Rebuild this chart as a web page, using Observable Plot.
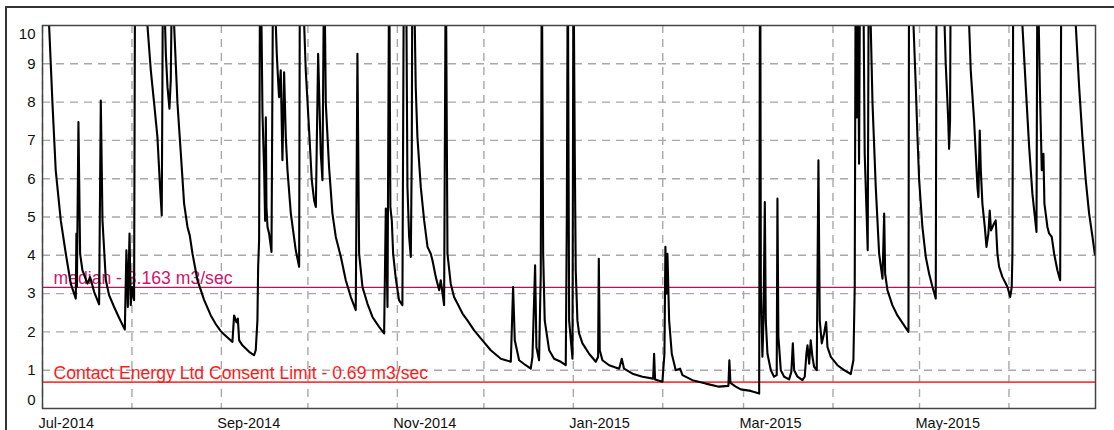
<!DOCTYPE html>
<html><head><meta charset="utf-8">
<script src="https://cdn.jsdelivr.net/npm/d3@7"></script>
<script src="https://cdn.jsdelivr.net/npm/@observablehq/plot@0.6"></script>
<style>
body{margin:0;background:#fff;}
#wrap{position:relative;width:1114px;height:430px;overflow:hidden;background:#fff;}
#wrap svg{position:absolute;left:0;top:0;}
#outer{position:absolute;left:5px;top:6px;right:-10px;bottom:-10px;border-left:2px solid #333;border-top:2px solid #333;pointer-events:none;z-index:2;}
</style></head><body><div id="wrap"><div id="outer"></div></div>
<script>
const times = ["2014-07-01T00","2014-07-03T07","2014-07-04T11","2014-07-05T14","2014-07-07T08","2014-07-09T02","2014-07-10T19","2014-07-12T13","2014-07-12T18","2014-07-12T22","2014-07-13T11","2014-07-14T01","2014-07-14T20","2014-07-16T14","2014-07-17T12","2014-07-18T22","2014-07-20T15","2014-07-21T05","2014-07-21T19","2014-07-22T23","2014-07-24T02","2014-07-25T20","2014-07-27T13","2014-07-29T13","2014-07-30T02","2014-07-30T14","2014-07-31T04","2014-07-31T14","2014-08-01T02","2014-08-01T18","2014-08-02T06","2014-08-04T00","2014-08-06T09","2014-08-07T13","2014-08-08T17","2014-08-09T20","2014-08-10T18","2014-08-11T08","2014-08-11T19","2014-08-12T18","2014-08-13T08","2014-08-14T00","2014-08-14T11","2014-08-14T20","2014-08-15T15","2014-08-16T19","2014-08-17T23","2014-08-19T02","2014-08-20T06","2014-08-21T01","2014-08-22T00","2014-08-23T17","2014-08-26T01","2014-08-28T08","2014-08-30T02","2014-08-31T19","2014-09-01T23","2014-09-04T20","2014-09-05T10","2014-09-06T06","2014-09-06T17","2014-09-07T04","2014-09-08T07","2014-09-10T15","2014-09-12T08","2014-09-12T22","2014-09-13T12","2014-09-13T18","2014-09-14T02","2014-09-14T10","2014-09-14T22","2014-09-15T06","2014-09-15T20","2014-09-16T04","2014-09-16T10","2014-09-16T15","2014-09-17T00","2014-09-17T13","2014-09-18T09","2014-09-18T23","2014-09-19T21","2014-09-20T05","2014-09-20T19","2014-09-21T00","2014-09-21T14","2014-09-22T04","2014-09-22T18","2014-09-23T08","2014-09-23T22","2014-09-25T02","2014-09-26T19","2014-09-27T23","2014-09-28T07","2014-09-29T17","2014-09-30T06","2014-10-01T10","2014-10-02T08","2014-10-03T04","2014-10-03T18","2014-10-04T13","2014-10-05T11","2014-10-06T01","2014-10-06T15","2014-10-07T05","2014-10-08T08","2014-10-09T12","2014-10-10T16","2014-10-12T10","2014-10-14T03","2014-10-15T21","2014-10-17T14","2014-10-18T04","2014-10-18T18","2014-10-19T22","2014-10-21T15","2014-10-23T09","2014-10-25T16","2014-10-27T10","2014-10-28T00","2014-10-28T14","2014-10-29T04","2014-10-29T14","2014-10-30T02","2014-10-30T13","2014-10-31T11","2014-11-01T14","2014-11-02T18","2014-11-03T08","2014-11-04T04","2014-11-04T12","2014-11-05T02","2014-11-05T16","2014-11-06T00","2014-11-06T06","2014-11-07T01","2014-11-07T09","2014-11-07T23","2014-11-09T03","2014-11-10T07","2014-11-11T11","2014-11-12T14","2014-11-13T04","2014-11-14T08","2014-11-15T12","2014-11-16T01","2014-11-17T05","2014-11-17T19","2014-11-18T09","2014-11-19T12","2014-11-20T16","2014-11-21T20","2014-11-23T14","2014-11-25T07","2014-11-27T15","2014-11-29T22","2014-12-03T09","2014-12-06T21","2014-12-10T08","2014-12-11T03","2014-12-11T17","2014-12-13T05","2014-12-15T12","2014-12-17T06","2014-12-17T20","2014-12-18T18","2014-12-19T05","2014-12-20T03","2014-12-20T17","2014-12-21T02","2014-12-21T13","2014-12-22T02","2014-12-23T15","2014-12-25T08","2014-12-27T16","2014-12-29T09","2014-12-29T18","2014-12-30T02","2014-12-30T13","2014-12-31T17","2015-01-01T01","2015-01-01T12","2015-01-01T20","2015-01-02T10","2015-01-03T00","2015-01-04T04","2015-01-06T11","2015-01-08T19","2015-01-09T14","2015-01-09T20","2015-01-10T04","2015-01-11T02","2015-01-13T10","2015-01-16T21","2015-01-17T19","2015-01-18T14","2015-01-21T12","2015-01-24T23","2015-01-28T16","2015-01-29T00","2015-01-29T08","2015-01-31T21","2015-02-01T14","2015-02-01T22","2015-02-02T07","2015-02-02T15","2015-02-03T05","2015-02-04T03","2015-02-05T12","2015-02-07T00","2015-02-07T20","2015-02-11T07","2015-02-15T22","2015-02-20T12","2015-02-23T18","2015-02-24T02","2015-02-24T11","2015-02-26T07","2015-02-28T01","2015-03-03T12","2015-03-06T10","2015-03-06T18","2015-03-07T00","2015-03-07T13","2015-03-07T22","2015-03-08T09","2015-03-08T17","2015-03-09T07","2015-03-10T11","2015-03-11T14","2015-03-12T12","2015-03-12T18","2015-03-13T02","2015-03-13T22","2015-03-15T02","2015-03-16T19","2015-03-17T14","2015-03-18T02","2015-03-18T13","2015-03-19T17","2015-03-21T10","2015-03-22T05","2015-03-22T19","2015-03-23T04","2015-03-23T18","2015-03-24T07","2015-03-24T21","2015-03-25T11","2015-03-26T09","2015-03-26T23","2015-03-27T10","2015-03-28T03","2015-03-28T22","2015-03-29T15","2015-03-30T02","2015-03-31T06","2015-04-02T13","2015-04-04T21","2015-04-07T04","2015-04-08T02","2015-04-08T13","2015-04-08T22","2015-04-09T06","2015-04-09T14","2015-04-10T01","2015-04-10T10","2015-04-11T13","2015-04-12T00","2015-04-12T14","2015-04-13T01","2015-04-13T10","2015-04-14T02","2015-04-14T17","2015-04-15T20","2015-04-17T00","2015-04-18T04","2015-04-18T18","2015-04-19T02","2015-04-19T21","2015-04-21T14","2015-04-23T08","2015-04-25T16","2015-04-27T04","2015-04-27T10","2015-04-28T22","2015-04-29T17","2015-04-30T07","2015-04-30T21","2015-05-02T00","2015-05-03T04","2015-05-04T08","2015-05-05T12","2015-05-06T15","2015-05-07T00","2015-05-09T12","2015-05-10T02","2015-05-10T22","2015-05-11T06","2015-05-11T14","2015-05-11T20","2015-05-15T00","2015-05-18T05","2015-05-18T18","2015-05-19T22","2015-05-21T02","2015-05-21T10","2015-05-21T21","2015-05-22T06","2015-05-22T19","2015-05-23T15","2015-05-24T05","2015-05-24T21","2015-05-25T08","2015-05-25T19","2015-05-26T20","2015-05-27T10","2015-05-28T00","2015-05-28T14","2015-05-29T18","2015-05-31T12","2015-06-01T10","2015-06-01T23","2015-06-02T05","2015-06-02T13","2015-06-05T16","2015-06-06T20","2015-06-08T00","2015-06-09T03","2015-06-10T13","2015-06-10T21","2015-06-11T17","2015-06-12T09","2015-06-12T23","2015-06-13T07","2015-06-14T08","2015-06-14T22","2015-06-15T20","2015-06-16T16","2015-06-17T19","2015-06-18T18","2015-06-19T05","2015-06-24T04","2015-06-25T08","2015-06-26T11","2015-06-27T15","2015-06-28T19","2015-06-29T23","2015-06-30T18","2015-07-01T00"];
const flows = [16,10.0,7.96,6.22,4.91,4.04,3.26,2.87,4.57,3.17,7.48,4.04,3.61,3.26,3.43,3.04,2.72,8.04,4.91,3.35,2.96,2.65,2.37,2.06,4.13,2.65,4.57,2.70,3.17,2.83,16,13,10.0,8.83,7.96,7.09,5.78,5.04,12,9.26,8.39,7.83,8.57,11,10,7.96,6.65,5.35,4.74,4.52,4.04,3.35,2.83,2.43,2.2,2.02,1.93,1.74,2.43,2.25,2.35,1.78,1.65,1.48,1.39,1.52,2.3,3.7,4.39,12,10,7.7,6.2,4.9,7.6,5.26,4.74,4.57,4.09,12,10,9.26,8.39,8.13,8.83,6.48,8.78,7.09,6.22,5.09,4.13,3.7,14,10,8.83,7.26,5.96,5.43,5.26,9.26,6.65,5.96,12,7.96,6.3,5.09,4.48,3.96,3.35,2.91,2.57,9.26,4.04,3.17,2.74,2.39,2.13,1.96,5.22,2.65,12,5.26,4.9,4.04,3.4,2.83,2.7,13,10,5.78,4.48,3.96,6.65,13,10,8.39,7.09,5.78,4.91,4.22,4.04,3.87,3.43,3.09,3.35,2.7,12,4.04,3.26,2.91,2.74,2.48,2.3,2.04,1.83,1.52,1.30,1.22,3.17,1.78,1.26,1.13,1.04,1.35,3.74,1.6,1.26,3.52,12,4.04,2.3,1.52,1.30,1.22,1.13,5.09,12,2.3,1.30,12,6.65,3.6,2.3,1.96,1.70,1.43,1.22,1.35,3.91,1.52,1.26,1.13,1.04,1.30,1.04,0.91,0.83,0.78,1.43,0.76,0.70,1.43,4.22,3.0,4.04,2.3,1.43,1.0,1.04,0.87,0.74,0.65,0.57,0.59,1.26,0.67,0.57,0.50,0.46,0.39,14,3.17,1.35,2.3,5.39,2.3,1.43,1.0,0.83,0.87,5.48,1.87,1.0,0.83,0.76,0.96,1.70,1.0,0.83,0.74,0.83,1.43,1.65,1.17,1.78,1.35,1.09,1.0,6.48,2.3,1.70,1.96,2.26,1.61,1.35,1.13,1.0,0.90,1.26,3.17,13,7.6,12,6.39,12,11,6.65,5.26,4.13,12,10,7.96,5.78,4.04,3.39,5.09,3.52,3.09,2.7,2.43,2.17,2.0,14,10,8.4,7.09,5.96,4.74,3.96,3.52,3.17,2.87,14,10.5,9.0,7.6,6.78,7.52,12,13,10,8.83,7.52,5.78,5.52,7.26,6.22,5.35,4.74,4.22,4.57,5.17,4.65,4.83,4.91,4.04,3.7,3.43,3.17,2.91,3.17,4.04,13,10,8.39,6.83,5.61,4.61,12,8.39,6.22,6.65,5.35,4.74,4.57,4.48,4.04,3.61,3.35,13,10,8.39,7.09,5.96,5.09,4.48,4.04,4.0];

const medianFlow = 3.163;
const consentLimit = 0.69;
const medianLabel = "median - 3.163 m3/sec";
const consentLabel = "Contact Energy Ltd Consent Limit - 0.69 m3/sec";

const xTickDates = ["2014-07-01","2014-09-01","2014-11-01","2015-01-01","2015-03-01","2015-05-01"];
const xTickLabels = ["Jul-2014","Sep-2014","Nov-2014","Jan-2015","Mar-2015","May-2015"];
const yTicks = [0,1,2,3,4,5,6,7,8,9,10];

const parseT = d3.utcParse("%Y-%m-%dT%H");
const parseD = d3.utcParse("%Y-%m-%d");
const data = times.map((t, i) => ({date: parseT(t), flow: flows[i]}));
const xStart = parseD("2014-07-01"), xEnd = parseD("2015-07-01");
const monthLines = d3.utcMonth.range(xStart, xEnd);
const tickDates = xTickDates.map(parseD);
const labelOf = new Map(tickDates.map((d, i) => [+d, xTickLabels[i]]));
const font = "'Liberation Sans', Arial, Helvetica, sans-serif";
const grid = {stroke: "#a8a8a8", strokeWidth: 1.4, strokeDasharray: "8,6"};

const chart = Plot.plot({
  width: 1114, height: 430,
  marginLeft: 42, marginRight: 19, marginTop: 25, marginBottom: 22,
  style: {fontFamily: font, fontSize: "15px", color: "#111", background: "transparent", overflow: "visible"},
  x: {type: "utc", domain: [xStart, xEnd], label: null},
  y: {domain: [0, 10], label: null},
  marks: [
    Plot.ruleX(monthLines, grid),
    Plot.ruleY(yTicks.slice(1, -1), grid),
    Plot.ruleY([medianFlow], {stroke: "#b3145a", strokeWidth: 1.3}),
    Plot.ruleY([consentLimit], {stroke: "#ff3c3c", strokeWidth: 1.8}),
    Plot.text([{v: medianFlow, t: medianLabel}], {y: "v", text: "t", frameAnchor: "left", textAnchor: "start", lineAnchor: "bottom", dx: 11, dy: -3, fill: "#cc1670", fontSize: 17.6, fontFamily: font}),
    Plot.text([{v: consentLimit, t: consentLabel}], {y: "v", text: "t", frameAnchor: "left", textAnchor: "start", lineAnchor: "bottom", dx: 11, dy: -3, fill: "#ff1a1a", fontSize: 17.6, fontFamily: font}),
    Plot.line(data, {x: "date", y: "flow", stroke: "#000", strokeWidth: 2.1, clip: true, strokeLinejoin: "round"}),
    Plot.axisY(yTicks.slice(1, -1), {tickSize: 0, tickPadding: 7, fontSize: 15, label: null}),
    Plot.axisY([yTicks[0]], {tickSize: 0, tickPadding: 7, dy: -8, fontSize: 15, label: null}),
    Plot.axisY([yTicks[yTicks.length - 1]], {tickSize: 0, tickPadding: 7, dy: 8.5, fontSize: 15, label: null}),
    Plot.axisX(tickDates, {tickSize: 0, tickPadding: 9, textAnchor: "start", dx: -4, fontSize: 14.5, label: null, tickFormat: d => labelOf.get(+d)}),
    Plot.frame({stroke: "#444", strokeWidth: 1.5})
  ]
});
document.getElementById("wrap").appendChild(chart);
</script></body></html>
